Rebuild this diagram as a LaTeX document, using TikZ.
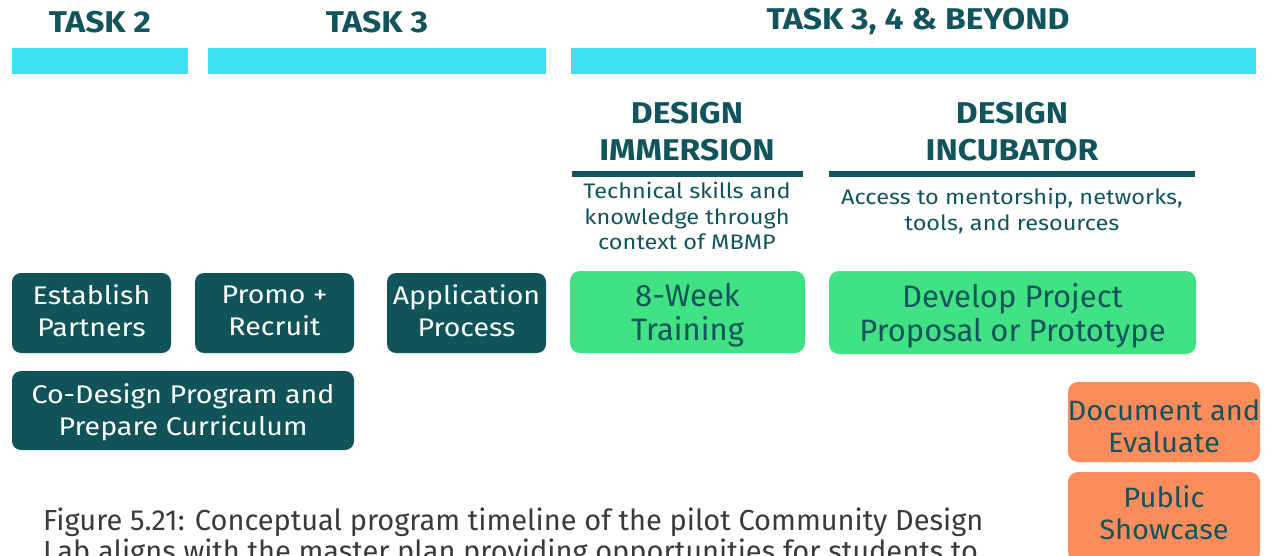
\documentclass[tikz,border=0pt]{standalone}
\usepackage{fontspec}
\setmainfont{Fira Sans}
\newfontfamily\widefont[FakeStretch=1.12]{Fira Sans}
\newfontfamily\midfont[FakeStretch=1.04]{Fira Sans}
\definecolor{cyanbar}{RGB}{61,226,242}
\definecolor{tealdark}{RGB}{18,84,91}
\definecolor{boxteal}{RGB}{16,83,89}
\definecolor{greenbox}{RGB}{64,226,131}
\definecolor{orangebox}{RGB}{252,140,92}
\definecolor{captiongray}{RGB}{58,58,58}
\begin{document}
\begin{tikzpicture}[x=1pt,y=-1pt,
  tasklabel/.style={text=tealdark,font=\widefont\bfseries\fontsize{30}{34}\selectfont,inner sep=0pt},
  phasehead/.style={text=tealdark,font=\widefont\bfseries\fontsize{30}{37}\selectfont,align=center,inner sep=0pt},
  phasetext/.style={text=tealdark,font=\widefont\fontsize{21}{25.5}\selectfont,align=center,inner sep=0pt},
  darkbox/.style={fill=boxteal,rounded corners=9pt,inner sep=0pt},
  darktext/.style={text=white,align=center,inner sep=0pt,font=\widefont\fontsize{25.5}{32}\selectfont},
  greenbx/.style={fill=greenbox,rounded corners=10pt,inner sep=0pt},
  greentext/.style={text=tealdark,align=center,inner sep=0pt,font=\fontsize{31}{34}\selectfont},
  orangebx/.style={fill=orangebox,rounded corners=10pt,inner sep=0pt},
  orangetext/.style={text=tealdark,align=center,inner sep=0pt,font=\midfont\fontsize{28}{32}\selectfont}
]
\useasboundingbox (0,0) rectangle (1279,556);
\clip (0,0) rectangle (1279,556);
% task headers
\node[tasklabel] (t2) at (100,22) {TASK 2};
\node[tasklabel] (t3) at (377,22) {TASK 3};
\node[tasklabel] (t34) at (918,22) {TASK 3, 4 \& BEYOND};
\fill[cyanbar] (12,48) rectangle (188,74);
\fill[cyanbar] (208,48) rectangle (546,74);
\fill[cyanbar] (571,48) rectangle (1256,74);
% phase headings
\node[phasehead] (imm) at (687,132) {DESIGN\\IMMERSION};
\node[phasehead] (inc) at (1012,132) {DESIGN\\INCUBATOR};
\fill[tealdark] (572,171.5) rectangle (803,177);
\fill[tealdark] (829,171.5) rectangle (1195,177);
\node[phasetext] (immt) at (687,216) {Technical skills and\\knowledge through\\context of MBMP};
\node[phasetext] (inct) at (1012,211) {Access to mentorship, networks,\\tools, and resources};
% dark boxes
\node[darkbox,minimum width=159pt,minimum height=80pt] (est) at (91.5,313) {};
\node[darkbox,minimum width=159pt,minimum height=80pt] (pro) at (274.5,313) {};
\node[darkbox,minimum width=159pt,minimum height=80pt] (app) at (466.5,313) {};
\node[darkbox,minimum width=342pt,minimum height=79pt] (cod) at (183,410.5) {};
\node[darktext] (estT) at ([yshift=2pt]est.center) {Establish\\Partners};
\node[darktext] (proT) at ([yshift=2pt]pro.center) {Promo +\\Recruit};
\node[darktext] (appT) at ([yshift=2pt]app.center) {Application\\Process};
\node[darktext] (codT) at ([yshift=-2pt]cod.center) {Co-Design Program and\\Prepare Curriculum};
% green boxes
\node[greenbx,minimum width=235pt,minimum height=82pt] (wk) at (687.5,312) {};
\node[greenbx,minimum width=367pt,minimum height=83pt] (dev) at (1012.5,312.5) {};
\node[greentext] (wkT) at ([yshift=-3pt]wk.center) {8-Week\\Training};
\node[greentext] (devT) at ([yshift=-3pt]dev.center) {Develop Project\\Proposal or Prototype};
% orange boxes
\node[orangebx,minimum width=192pt,minimum height=80pt] (doc) at (1164,422) {};
\node[orangebx,minimum width=192pt,minimum height=90pt] (pub) at (1164,517) {};
\node[orangetext] (docT) at ([yshift=-4pt]doc.center) {Document and\\Evaluate};
\node[orangetext] (pubT) at ([yshift=4pt]pub.center) {Public\\Showcase};
% caption
\node[anchor=base west,inner sep=0pt,text=captiongray,font=\fontsize{29}{31}\selectfont,align=left] (cap) at (43,561) {Figure 5.21: Conceptual program timeline of the pilot Community Design\\Lab aligns with the master plan providing opportunities for students to};
\end{tikzpicture}
\end{document}
